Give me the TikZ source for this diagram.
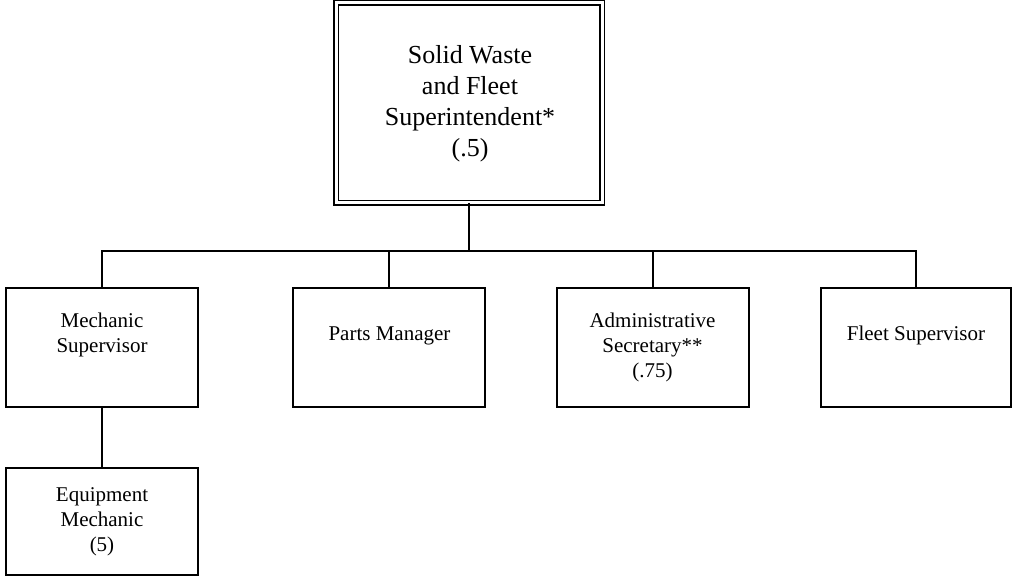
\documentclass[tikz,border=0pt]{standalone}
\usepackage{fontspec}
\setmainfont{Liberation Serif}
\begin{document}
\begin{tikzpicture}[x=1pt,y=-1pt,
  line width=1.8pt,
  box/.style={draw, rectangle, inner sep=0pt, outer sep=0pt, anchor=north west},
  topbox/.style={draw, double, double distance=3pt, line width=1.8pt, rectangle, inner sep=0pt, outer sep=0pt, anchor=north west},
  small/.style={font=\fontsize{21}{25}\selectfont, align=center, anchor=base, inner sep=0pt},
  big/.style={font=\fontsize{26}{31}\selectfont, align=center, anchor=base, inner sep=0pt},
  link/.style={draw, line width=1.8pt}
]
\useasboundingbox (0,0) rectangle (1013,577);
% boxes
\node[topbox, minimum width=266pt, minimum height=200pt] (top) at (336,3) {};
\node[box, minimum width=192pt, minimum height=119pt] (mech) at (6,288) {};
\node[box, minimum width=192pt, minimum height=119pt] (parts) at (293,288) {};
\node[box, minimum width=192pt, minimum height=119pt] (admin) at (557,288) {};
\node[box, minimum width=190pt, minimum height=119pt] (fleet) at (821,288) {};
\node[box, minimum width=192pt, minimum height=107pt] (equip) at (6,468) {};
% labels (anchored at the baseline of the last line)
\node[big] (ttop) at (470,157) {Solid Waste\\and Fleet\\Superintendent*\\(.5)};
\node[small] (tmech) at (102,353) {Mechanic\\Supervisor};
\node[small] (tparts) at (389.5,341) {Parts Manager};
\node[small] (tadmin) at (652.5,378) {Administrative\\Secretary**\\(.75)};
\node[small] (tfleet) at (916,341) {Fleet Supervisor};
\node[small] (tequip) at (102,551.7) {Equipment\\Mechanic\\(5)};
% connectors
\coordinate (bar) at (469,251);
\draw[link] (top.south) -- (top.south |- bar);
\draw[link] (bar) -| (mech.north);
\draw[link] (bar) -| (parts.north);
\draw[link] (bar) -| (admin.north);
\draw[link] (bar) -| (fleet.north);
\draw[link] (mech.south) -- (equip.north);
\end{tikzpicture}
\end{document}
